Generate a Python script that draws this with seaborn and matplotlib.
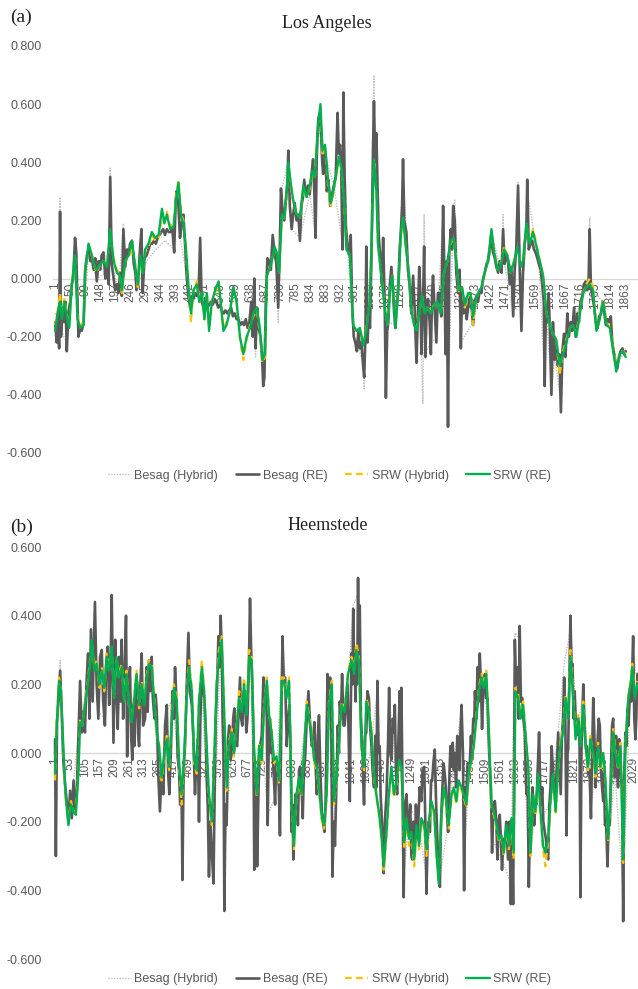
import matplotlib
matplotlib.use("Agg")
import matplotlib.pyplot as plt
import matplotlib.ticker as mticker
import seaborn as sns

# ---------------- (a) Los Angeles ----------------
srw_obs_a = [1, 12, 17, 23, 31, 39, 47, 55, 66, 74,
             83, 94, 99, 110, 121, 130, 137, 148, 159, 170,
             181, 192, 203, 213, 219, 230, 241, 252, 263, 271,
             279, 288, 295, 306, 317, 328, 339, 350, 358, 366,
             377, 388, 396, 404, 413, 420, 428, 437, 445, 453,
             464, 472, 480, 489, 497, 504, 513, 524, 535, 542,
             551, 561, 573, 583, 594, 605, 616, 627, 638, 649,
             660, 670, 678, 687, 693, 700, 709, 718, 725, 733,
             742, 750, 758, 763, 772, 779, 790, 801, 812, 823,
             833, 842, 850, 859, 868, 875, 883, 894, 902, 910,
             921, 929, 937, 945, 953, 964, 975, 986, 997, 1008,
             1018, 1029, 1035, 1043, 1051, 1056, 1067, 1078, 1087, 1095,
             1103, 1113, 1122, 1131, 1138, 1147, 1157, 1165, 1174, 1182,
             1191, 1200, 1209, 1218, 1229, 1240, 1250, 1261, 1272, 1283,
             1294, 1303, 1313, 1321, 1331, 1340, 1351, 1359, 1367, 1375,
             1383, 1394, 1405, 1416, 1427, 1436, 1447, 1457, 1468, 1479,
             1490, 1501, 1512, 1523, 1530, 1541, 1552, 1563, 1574, 1585,
             1596, 1607, 1618, 1628, 1639, 1650, 1661, 1672, 1683, 1694,
             1705, 1716, 1727, 1737, 1748, 1759, 1770, 1781, 1792, 1803,
             1814, 1825, 1835, 1846, 1857, 1866]
srw_re_a = [-0.18, -0.10, -0.08, -0.14, -0.08, -0.13, -0.17, -0.03, 0.08, -0.14,
            -0.17, -0.16, 0.02, 0.12, 0.08, 0.04, 0.03, 0.05, 0.06, 0.04,
            0.17, 0.06, 0.02, 0.01, -0.04, 0.06, 0.08, 0.13, 0.04, -0.02,
            0.08, 0.02, 0.10, 0.12, 0.16, 0.14, 0.15, 0.24, 0.19, 0.22,
            0.17, 0.18, 0.27, 0.33, 0.21, 0.19, 0.11, -0.03, -0.12, -0.04,
            -0.02, -0.08, -0.05, -0.14, -0.05, -0.18, -0.08, -0.04, -0.01, -0.08,
            -0.18, -0.16, -0.11, -0.03, -0.08, -0.20, -0.26, -0.20, -0.17, -0.12,
            -0.10, -0.17, -0.28, -0.26, 0.01, 0.03, 0.06, 0.11, 0.09, 0.02,
            0.22, 0.21, 0.30, 0.40, 0.32, 0.27, 0.22, 0.21, 0.32, 0.28,
            0.32, 0.37, 0.35, 0.51, 0.60, 0.44, 0.46, 0.33, 0.26, 0.30,
            0.37, 0.42, 0.38, 0.27, 0.10, 0.08, -0.16, -0.18, -0.17, -0.23,
            -0.18, -0.08, 0.12, 0.41, 0.30, 0.12, 0.01, -0.10, -0.16, -0.05,
            0.01, -0.17, -0.05, 0.16, 0.21, 0.11, 0.02, -0.11, -0.16, -0.18,
            -0.12, -0.06, -0.12, -0.10, -0.12, -0.09, -0.08, -0.12, 0.02, 0.06,
            0.13, 0.14, 0.05, -0.04, -0.03, -0.09, -0.05, -0.05, -0.13, -0.08,
            -0.05, -0.03, 0.02, 0.06, 0.17, 0.09, 0.03, 0.04, 0.10, 0.08,
            0.02, 0.06, 0.11, 0.04, 0.06, 0.19, 0.12, 0.16, 0.11, 0.06,
            0.01, -0.12, -0.16, -0.19, -0.21, -0.30, -0.26, -0.22, -0.17, -0.16,
            -0.20, -0.12, -0.05, -0.03, -0.02, -0.04, -0.18, -0.14, -0.08, -0.16,
            -0.17, -0.25, -0.32, -0.26, -0.25, -0.27]
srw_hyb_a = [-0.16, -0.09, -0.05, -0.13, -0.07, -0.12, -0.16, -0.02, 0.07, -0.13,
             -0.16, -0.15, 0.02, 0.11, 0.08, 0.04, 0.02, 0.05, 0.06, 0.05,
             0.15, 0.07, 0.03, 0.01, -0.05, 0.06, 0.07, 0.11, 0.05, -0.03,
             0.07, 0.02, 0.09, 0.11, 0.15, 0.13, 0.14, 0.21, 0.20, 0.23,
             0.18, 0.19, 0.28, 0.34, 0.22, 0.20, 0.10, -0.03, -0.15, -0.04,
             -0.01, -0.08, -0.05, -0.14, -0.05, -0.17, -0.08, -0.05, -0.02, -0.08,
             -0.17, -0.15, -0.11, -0.03, -0.08, -0.21, -0.28, -0.21, -0.16, -0.13,
             -0.11, -0.18, -0.29, -0.27, 0.01, 0.03, 0.06, 0.10, 0.09, 0.02,
             0.21, 0.21, 0.29, 0.39, 0.31, 0.26, 0.22, 0.21, 0.31, 0.28,
             0.31, 0.36, 0.35, 0.50, 0.59, 0.43, 0.45, 0.31, 0.25, 0.29,
             0.36, 0.41, 0.37, 0.27, 0.10, 0.08, -0.16, -0.18, -0.17, -0.22,
             -0.17, -0.08, 0.12, 0.40, 0.30, 0.12, 0.01, -0.10, -0.16, -0.05,
             0.01, -0.16, -0.05, 0.15, 0.20, 0.11, 0.02, -0.11, -0.16, -0.17,
             -0.12, -0.06, -0.12, -0.10, -0.11, -0.09, -0.08, -0.12, 0.02, 0.06,
             0.12, 0.14, 0.06, -0.05, -0.03, -0.10, -0.06, -0.05, -0.16, -0.08,
             -0.05, -0.03, 0.02, 0.06, 0.16, 0.10, 0.03, 0.05, 0.11, 0.08,
             0.02, 0.06, 0.10, 0.05, 0.06, 0.18, 0.13, 0.17, 0.12, 0.06,
             0.01, -0.12, -0.16, -0.19, -0.21, -0.33, -0.25, -0.21, -0.17, -0.16,
             -0.19, -0.11, -0.05, -0.02, 0.00, -0.03, -0.17, -0.14, -0.07, -0.15,
             -0.17, -0.24, -0.31, -0.25, -0.25, -0.26]

besag_obs_a = [1, 6, 10, 14, 17, 20, 25, 30, 35, 39,
               44, 50, 55, 60, 66, 70, 77, 83, 88, 94,
               99, 105, 110, 116, 121, 127, 132, 137, 143, 148,
               153, 159, 165, 170, 176, 181, 186, 192, 197, 203,
               208, 213, 219, 224, 230, 236, 241, 246, 252, 258,
               263, 267, 272, 277, 283, 287, 293, 300, 306, 312,
               318, 324, 330, 336, 342, 348, 354, 360, 366, 372,
               378, 384, 390, 395, 398, 404, 409, 415, 420, 425,
               430, 436, 442, 447, 453, 458, 464, 470, 475, 480,
               486, 492, 498, 504, 510, 516, 522, 528, 534, 540,
               546, 552, 558, 564, 570, 576, 582, 588, 594, 600,
               606, 612, 618, 624, 630, 636, 642, 647, 652, 656,
               661, 666, 672, 677, 681, 685, 690, 695, 700, 706,
               712, 718, 724, 730, 735, 739, 744, 750, 755, 760,
               763, 768, 774, 779, 784, 790, 796, 801, 806, 811,
               815, 821, 828, 833, 838, 844, 848, 852, 856, 861,
               866, 870, 874, 877, 883, 889, 894, 900, 906, 912,
               918, 924, 928, 932, 936, 940, 943, 947, 951, 956,
               962, 967, 972, 977, 982, 987, 992, 997, 1002, 1006,
               1011, 1015, 1018, 1022, 1026, 1030, 1035, 1040, 1043, 1047,
               1051, 1055, 1059, 1064, 1069, 1073, 1078, 1082, 1086, 1090,
               1095, 1100, 1105, 1109, 1113, 1118, 1122, 1127, 1131, 1135,
               1138, 1142, 1149, 1154, 1160, 1165, 1171, 1176, 1182, 1186,
               1191, 1195, 1198, 1203, 1207, 1211, 1216, 1220, 1225, 1229,
               1233, 1236, 1241, 1247, 1252, 1258, 1263, 1269, 1273, 1277,
               1281, 1285, 1289, 1294, 1298, 1302, 1307, 1312, 1318, 1323,
               1327, 1331, 1336, 1341, 1346, 1351, 1356, 1361, 1367, 1372,
               1378, 1383, 1389, 1394, 1400, 1405, 1411, 1416, 1422, 1427,
               1432, 1438, 1443, 1449, 1454, 1460, 1465, 1470, 1476, 1481,
               1487, 1492, 1498, 1503, 1508, 1514, 1519, 1525, 1530, 1536,
               1541, 1544, 1549, 1555, 1560, 1566, 1571, 1577, 1582, 1588,
               1593, 1598, 1601, 1605, 1610, 1614, 1618, 1623, 1628, 1634,
               1639, 1644, 1649, 1654, 1659, 1664, 1669, 1675, 1680, 1686,
               1691, 1697, 1702, 1708, 1713, 1718, 1724, 1729, 1735, 1740,
               1744, 1748, 1752, 1757, 1763, 1768, 1774, 1779, 1785, 1790,
               1796, 1801, 1807, 1812, 1817, 1822, 1828, 1833, 1838, 1844,
               1849, 1855, 1860, 1866]
besag_re_a = [-0.15, -0.22, -0.12, -0.24, 0.23, -0.20, -0.10, -0.15, -0.08, -0.25,
              -0.12, -0.08, -0.02, 0.00, 0.14, 0.09, -0.20, -0.17, -0.18, -0.15,
              0.03, 0.08, 0.10, 0.06, 0.07, 0.03, 0.07, -0.01, 0.06, 0.03,
              0.08, 0.09, 0.00, 0.04, -0.02, 0.35, 0.05, 0.00, -0.04, -0.02,
              -0.05, 0.02, -0.06, 0.17, 0.04, 0.10, 0.08, 0.12, 0.13, 0.05,
              0.02, -0.04, -0.02, 0.08, 0.17, -0.05, 0.07, 0.08, 0.10, 0.12,
              0.12, 0.13, 0.12, 0.14, 0.15, 0.16, 0.17, 0.15, 0.17, 0.16,
              0.16, 0.17, 0.09, 0.27, 0.30, 0.25, 0.14, 0.19, 0.22, 0.13,
              0.02, -0.06, -0.10, -0.06, -0.07, -0.05, -0.06, -0.04, 0.14, -0.08,
              -0.10, -0.08, -0.10, -0.09, -0.08, -0.09, -0.07, -0.08, -0.10, -0.09,
              -0.11, -0.12, -0.11, -0.12, -0.11, -0.10, -0.13, -0.12, -0.14, -0.14,
              -0.16, -0.15, -0.16, -0.14, -0.17, -0.15, -0.08, -0.20, 0.00, -0.24,
              -0.10, -0.17, -0.20, -0.26, -0.37, -0.34, -0.05, 0.07, 0.06, 0.03,
              0.15, 0.09, 0.05, -0.10, 0.10, 0.31, 0.24, 0.20, 0.27, 0.33,
              0.44, 0.25, 0.17, 0.22, 0.26, 0.20, 0.22, 0.13, 0.25, 0.28,
              0.34, 0.29, 0.32, 0.29, 0.35, 0.41, 0.30, 0.14, 0.42, 0.55,
              0.57, 0.50, 0.40, 0.36, 0.44, 0.30, 0.34, 0.25, 0.29, 0.32,
              0.35, 0.57, 0.43, 0.46, 0.38, 0.10, 0.64, 0.35, 0.18, 0.12,
              0.08, 0.15, -0.10, -0.20, -0.22, -0.25, -0.18, -0.24, -0.22, -0.28,
              -0.34, -0.20, 0.11, -0.22, -0.12, -0.17, 0.08, 0.45, 0.61, 0.40,
              0.50, 0.30, 0.14, 0.07, -0.02, 0.14, -0.08, -0.41, -0.18, -0.15,
              -0.02, 0.04, -0.04, -0.12, -0.17, -0.08, -0.04, 0.10, 0.16, 0.25,
              0.41, 0.20, 0.16, 0.03, -0.03, -0.12, 0.01, -0.10, -0.29, -0.15,
              0.04, -0.06, -0.26, -0.10, 0.11, -0.27, -0.08, -0.07, -0.15, -0.26,
              -0.05, 0.01, -0.10, -0.22, -0.05, -0.05, -0.13, 0.25, 0.02, -0.26,
              0.06, -0.51, 0.08, 0.17, 0.10, 0.25, 0.20, 0.02, -0.05, 0.03,
              -0.24, -0.04, -0.12, -0.07, -0.14, -0.10, -0.05, -0.09, -0.16, -0.08,
              -0.06, -0.08, -0.04, -0.05, 0.00, 0.02, 0.05, 0.06, 0.10, 0.16,
              0.09, 0.07, 0.04, 0.02, 0.06, 0.02, 0.17, 0.05, 0.08, 0.06,
              -0.02, 0.04, -0.13, 0.03, 0.10, 0.32, 0.05, -0.18, 0.02, 0.12,
              0.16, 0.34, 0.10, 0.12, 0.13, 0.10, 0.09, 0.07, 0.05, 0.03,
              -0.02, -0.08, -0.37, -0.10, -0.15, -0.05, -0.18, -0.40, -0.15, -0.28,
              -0.22, -0.30, -0.26, -0.46, -0.25, -0.19, -0.27, -0.12, -0.20, -0.15,
              -0.18, -0.10, -0.20, -0.12, -0.15, -0.08, -0.06, -0.02, -0.01, -0.04,
              -0.03, 0.17, -0.03, -0.06, -0.10, -0.15, -0.17, -0.13, -0.12, -0.08,
              -0.12, -0.16, -0.14, -0.15, -0.13, -0.22, -0.26, -0.29, -0.31, -0.27,
              -0.25, -0.24, -0.26, -0.25]
besag_hyb_obs_a = [1, 14, 17, 20, 39, 50, 66, 77, 94, 110,
                   137, 165, 176, 181, 186, 208, 224, 230, 252, 272,
                   300, 330, 360, 390, 398, 409, 430, 442, 470, 475,
                   480, 520, 560, 600, 630, 652, 656, 661, 677, 681,
                   690, 712, 724, 730, 739, 763, 774, 801, 833, 852,
                   861, 883, 912, 940, 943, 956, 977, 1006, 1011, 1018,
                   1030, 1040, 1043, 1047, 1059, 1078, 1082, 1090, 1113, 1138,
                   1149, 1182, 1198, 1203, 1207, 1211, 1247, 1269, 1285, 1302,
                   1307, 1327, 1367, 1400, 1427, 1460, 1465, 1470, 1498, 1514,
                   1525, 1544, 1582, 1601, 1605, 1623, 1634, 1654, 1664, 1691,
                   1718, 1744, 1748, 1752, 1790, 1822, 1838, 1866]
besag_hyb_a = [-0.12, -0.20, 0.28, -0.18, -0.22, -0.08, 0.12, -0.20, -0.15, 0.08,
               0.00, 0.02, -0.01, 0.38, 0.05, -0.04, 0.19, 0.05, 0.12, -0.02,
               0.06, 0.10, 0.13, 0.10, 0.31, 0.14, 0.02, -0.10, -0.05, 0.10,
               -0.08, -0.08, -0.11, -0.13, -0.16, -0.02, -0.27, -0.10, -0.26, -0.33,
               -0.04, 0.14, 0.05, -0.15, 0.30, 0.40, 0.17, 0.14, 0.29, 0.15,
               0.52, 0.43, 0.32, 0.12, 0.60, 0.12, -0.20, -0.28, -0.38, 0.08,
               -0.16, 0.55, 0.70, 0.40, 0.14, -0.08, -0.40, -0.15, -0.16, 0.36,
               0.15, -0.27, -0.25, -0.43, 0.22, -0.25, -0.20, 0.22, -0.45, 0.24,
               0.27, -0.22, -0.15, 0.00, 0.15, 0.02, 0.22, 0.05, -0.12, 0.33,
               -0.16, 0.30, 0.05, -0.35, -0.10, -0.38, -0.27, -0.43, -0.19, -0.17,
               -0.08, -0.03, 0.21, -0.03, -0.08, -0.21, -0.30, -0.24]
ticks_a = [1, 50, 99, 148, 197, 246, 295, 344, 393, 442, 491, 540, 589, 638,
           687, 736, 785, 834, 883, 932, 981, 1030, 1079, 1128, 1177, 1226,
           1275, 1324, 1373, 1422, 1471, 1520, 1569, 1618, 1667, 1716, 1765,
           1814, 1863]

# ---------------- (b) Heemstede ----------------
srw_obs_b = [1, 7, 15, 22, 30, 38, 48, 57, 65, 74,
             83, 89, 97, 106, 116, 124, 130, 139, 147, 157,
             165, 174, 182, 190, 200, 208, 217, 225, 235, 243,
             252, 261, 270, 279, 287, 296, 305, 314, 323, 331,
             340, 350, 358, 366, 375, 383, 393, 401, 410, 418,
             428, 436, 445, 453, 463, 471, 481, 489, 498, 506,
             516, 524, 533, 541, 551, 559, 568, 576, 586, 594,
             603, 611, 621, 629, 638, 647, 656, 664, 673, 682,
             691, 699, 709, 717, 726, 734, 744, 752, 761, 769,
             778, 787, 796, 804, 813, 822, 831, 839, 848, 857,
             866, 874, 884, 892, 902, 910, 919, 927, 937, 945,
             954, 962, 972, 980, 989, 997, 1006, 1017, 1029, 1041,
             1050, 1058, 1067, 1076, 1085, 1093, 1102, 1111, 1120, 1128,
             1137, 1146, 1154, 1164, 1172, 1181, 1190, 1199, 1208, 1216,
             1226, 1234, 1243, 1251, 1261, 1269, 1278, 1286, 1296, 1304,
             1312, 1321, 1331, 1339, 1347, 1357, 1365, 1374, 1382, 1392,
             1400, 1409, 1417, 1427, 1435, 1444, 1452, 1462, 1470, 1479,
             1488, 1497, 1505, 1514, 1523, 1532, 1540, 1550, 1558, 1567,
             1575, 1585, 1593, 1602, 1610, 1616, 1626, 1634, 1643, 1651,
             1661, 1669, 1678, 1686, 1696, 1704, 1713, 1721, 1731, 1739,
             1748, 1757, 1766, 1774, 1783, 1792, 1801, 1809, 1819, 1827,
             1836, 1844, 1854, 1862, 1871, 1879, 1889, 1897, 1906, 1914,
             1924, 1932, 1941, 1950, 1959, 1967, 1976, 1985, 1994, 2002,
             2012, 2020, 2026, 2035, 2043]
srw_re_b = [-0.06, 0.08, 0.21, 0.18, 0.02, -0.12, -0.21, -0.15, -0.17, -0.18,
            -0.06, 0.09, 0.08, 0.14, 0.20, 0.26, 0.33, 0.24, 0.26, 0.20,
            0.24, 0.19, 0.28, 0.24, 0.31, 0.16, 0.28, 0.22, 0.25, 0.15,
            0.23, 0.14, 0.09, 0.16, 0.23, 0.14, 0.20, 0.14, 0.22, 0.26,
            0.25, 0.14, 0.06, 0.02, -0.07, -0.01, 0.04, -0.04, 0.08, 0.19,
            0.15, -0.02, -0.12, -0.02, 0.16, 0.25, 0.18, -0.02, -0.05, 0.15,
            0.25, 0.18, 0.02, -0.12, -0.20, -0.02, 0.20, 0.28, 0.33, 0.13,
            -0.10, 0.02, 0.06, 0.00, 0.07, 0.16, 0.12, 0.20, 0.11, 0.28,
            0.27, 0.02, -0.12, 0.02, -0.02, 0.12, 0.21, 0.11, 0.06, -0.02,
            -0.01, -0.08, 0.21, 0.21, 0.16, 0.21, -0.14, -0.27, -0.12, -0.07,
            -0.12, 0.00, 0.14, 0.10, 0.05, -0.02, -0.04, -0.10, -0.19, -0.21,
            -0.12, 0.14, 0.20, -0.14, -0.06, 0.03, 0.14, 0.12, 0.23, 0.27,
            0.23, 0.30, 0.27, 0.02, -0.04, 0.15, 0.12, 0.06, -0.06, -0.12,
            -0.17, -0.24, -0.33, -0.23, -0.12, -0.04, -0.12, -0.08, -0.02, -0.04,
            -0.26, -0.19, -0.25, -0.23, -0.31, -0.21, -0.27, -0.19, -0.21, -0.28,
            -0.20, -0.14, -0.17, -0.29, -0.38, -0.17, -0.10, -0.14, -0.21, -0.12,
            -0.10, -0.14, -0.08, -0.10, -0.12, -0.15, -0.06, -0.02, 0.02, 0.10,
            0.18, 0.22, 0.19, 0.23, 0.06, -0.15, -0.17, -0.21, -0.25, -0.24,
            -0.29, -0.21, -0.27, -0.19, -0.29, 0.18, 0.16, 0.10, 0.14, 0.06,
            -0.04, -0.29, -0.12, -0.17, -0.06, -0.17, -0.27, -0.29, -0.25, -0.14,
            -0.06, -0.17, -0.04, 0.02, 0.06, 0.16, 0.10, 0.28, 0.16, 0.04,
            0.10, 0.02, 0.14, 0.02, -0.04, 0.04, 0.00, -0.06, 0.02, -0.04,
            0.00, -0.08, -0.25, -0.12, 0.06, 0.00, -0.04, 0.02, -0.31, 0.02,
            0.16, 0.20, 0.25, 0.16, 0.20]
srw_hyb_b = [-0.08, 0.09, 0.22, 0.18, 0.01, -0.13, -0.20, -0.14, -0.17, -0.17,
             -0.05, 0.10, 0.08, 0.15, 0.21, 0.27, 0.32, 0.25, 0.27, 0.19,
             0.25, 0.18, 0.29, 0.25, 0.30, 0.17, 0.27, 0.23, 0.26, 0.16,
             0.24, 0.13, 0.10, 0.17, 0.24, 0.13, 0.21, 0.15, 0.23, 0.27,
             0.26, 0.15, 0.05, 0.03, -0.08, -0.02, 0.05, -0.05, 0.09, 0.20,
             0.16, -0.03, -0.15, -0.03, 0.17, 0.27, 0.19, -0.03, -0.06, 0.16,
             0.27, 0.19, 0.01, -0.13, -0.21, -0.03, 0.21, 0.30, 0.34, 0.14,
             -0.11, 0.03, 0.07, -0.01, 0.08, 0.18, 0.13, 0.22, 0.12, 0.30,
             0.28, 0.01, -0.13, 0.03, -0.03, 0.13, 0.22, 0.12, 0.07, -0.03,
             -0.02, -0.09, 0.22, 0.22, 0.17, 0.22, -0.15, -0.28, -0.13, -0.08,
             -0.13, 0.01, 0.15, 0.11, 0.06, -0.03, -0.05, -0.11, -0.20, -0.22,
             -0.13, 0.15, 0.21, -0.15, -0.07, 0.04, 0.15, 0.13, 0.24, 0.28,
             0.24, 0.32, 0.28, 0.01, -0.05, 0.16, 0.13, 0.07, -0.07, -0.13,
             -0.18, -0.25, -0.34, -0.24, -0.13, -0.05, -0.13, -0.09, -0.03, -0.05,
             -0.28, -0.20, -0.27, -0.24, -0.33, -0.22, -0.28, -0.20, -0.22, -0.30,
             -0.21, -0.15, -0.18, -0.30, -0.37, -0.18, -0.11, -0.15, -0.22, -0.13,
             -0.11, -0.15, -0.09, -0.11, -0.13, -0.16, -0.07, -0.03, 0.03, 0.11,
             0.19, 0.23, 0.20, 0.24, 0.07, -0.16, -0.18, -0.22, -0.26, -0.25,
             -0.30, -0.22, -0.28, -0.20, -0.31, 0.19, 0.17, 0.11, 0.15, 0.07,
             -0.05, -0.30, -0.13, -0.18, -0.07, -0.18, -0.28, -0.33, -0.26, -0.15,
             -0.07, -0.18, -0.05, 0.03, 0.07, 0.17, 0.11, 0.30, 0.17, 0.05,
             0.11, 0.03, 0.15, 0.01, -0.05, 0.05, -0.01, -0.07, 0.03, -0.05,
             -0.01, -0.09, -0.26, -0.13, 0.07, 0.01, -0.05, 0.03, -0.32, 0.03,
             0.17, 0.21, 0.26, 0.17, 0.21]

besag_obs_b = [1, 4, 8, 13, 19, 24, 30, 36, 42, 48,
               54, 60, 66, 72, 77, 83, 89, 95, 100, 106,
               111, 117, 122, 127, 133, 137, 141, 147, 153, 159,
               165, 170, 176, 181, 186, 191, 196, 200, 206, 212,
               217, 221, 226, 231, 235, 240, 245, 250, 254, 259,
               264, 268, 272, 276, 279, 284, 288, 292, 296, 300,
               305, 310, 317, 322, 326, 331, 336, 340, 345, 350,
               354, 358, 364, 369, 375, 381, 387, 393, 398, 402,
               408, 413, 418, 422, 427, 431, 436, 440, 445, 448,
               452, 457, 463, 469, 474, 481, 486, 492, 497, 502,
               506, 511, 516, 521, 525, 530, 533, 537, 541, 546,
               551, 557, 561, 565, 570, 574, 578, 582, 586, 589,
               592, 595, 599, 603, 608, 612, 617, 621, 626, 630,
               635, 640, 645, 650, 654, 658, 663, 668, 672, 676,
               681, 685, 689, 693, 697, 700, 705, 710, 715, 720,
               726, 732, 736, 740, 744, 747, 751, 755, 759, 763,
               768, 773, 777, 782, 786, 790, 795, 799, 803, 808,
               811, 814, 819, 823, 827, 831, 834, 837, 841, 845,
               849, 853, 857, 861, 866, 870, 874, 878, 884, 890,
               896, 902, 907, 911, 915, 919, 923, 927, 932, 937,
               941, 946, 950, 954, 957, 962, 966, 970, 974, 979,
               983, 988, 993, 997, 1000, 1004, 1008, 1013, 1017, 1022,
               1027, 1031, 1035, 1038, 1041, 1044, 1047, 1050, 1052, 1055,
               1058, 1061, 1064, 1067, 1070, 1074, 1078, 1081, 1085, 1089,
               1093, 1097, 1102, 1106, 1111, 1115, 1120, 1125, 1128, 1132,
               1136, 1140, 1143, 1146, 1150, 1154, 1158, 1164, 1169, 1173,
               1177, 1181, 1186, 1190, 1193, 1197, 1201, 1205, 1210, 1213,
               1216, 1220, 1224, 1228, 1234, 1238, 1242, 1247, 1251, 1254,
               1258, 1263, 1267, 1271, 1275, 1280, 1286, 1290, 1296, 1300,
               1304, 1308, 1312, 1316, 1320, 1324, 1328, 1333, 1338, 1343,
               1347, 1351, 1355, 1359, 1364, 1368, 1372, 1376, 1380, 1385,
               1388, 1392, 1396, 1400, 1403, 1408, 1412, 1415, 1420, 1423,
               1427, 1432, 1436, 1440, 1444, 1448, 1452, 1456, 1460, 1464,
               1468, 1471, 1474, 1479, 1483, 1487, 1491, 1495, 1499, 1503,
               1509, 1513, 1518, 1522, 1526, 1530, 1534, 1539, 1544, 1549,
               1553, 1557, 1561, 1565, 1569, 1574, 1579, 1584, 1590, 1595,
               1600, 1604, 1608, 1611, 1614, 1618, 1623, 1627, 1631, 1635,
               1640, 1644, 1649, 1652, 1655, 1659, 1663, 1667, 1672, 1676,
               1682, 1686, 1690, 1694, 1699, 1703, 1706, 1710, 1714, 1719,
               1723, 1727, 1731, 1735, 1739, 1743, 1748, 1752, 1754, 1758,
               1762, 1766, 1770, 1775, 1779, 1783, 1787, 1791, 1795, 1799,
               1801, 1805, 1809, 1813, 1816, 1820, 1824, 1829, 1834, 1838,
               1841, 1844, 1848, 1851, 1854, 1858, 1862, 1866, 1871, 1876,
               1881, 1885, 1889, 1893, 1897, 1900, 1905, 1908, 1912, 1916,
               1920, 1924, 1927, 1930, 1934, 1939, 1943, 1947, 1951, 1955,
               1959, 1962, 1965, 1969, 1973, 1976, 1980, 1983, 1986, 1990,
               1994, 1998, 2002, 2005, 2009, 2013, 2018, 2022, 2026, 2029,
               2033, 2037, 2040, 2044]
besag_re_b = [0.04, -0.30, 0.09, 0.15, 0.24, 0.13, -0.02, -0.09, -0.14, -0.20,
              -0.11, -0.19, -0.08, -0.17, -0.12, 0.05, 0.21, 0.06, 0.12, 0.06,
              0.20, 0.29, 0.10, 0.36, 0.15, 0.30, 0.44, 0.20, 0.10, 0.28,
              0.30, 0.15, 0.08, 0.27, 0.31, 0.14, 0.25, 0.46, 0.03, 0.33,
              0.16, 0.07, 0.28, 0.15, 0.33, 0.10, 0.22, 0.40, -0.01, 0.20,
              0.25, 0.05, -0.02, 0.14, 0.02, 0.20, 0.21, 0.06, 0.02, 0.19,
              0.29, 0.08, 0.10, 0.25, 0.12, 0.27, 0.18, 0.28, 0.15, 0.10,
              0.17, 0.12, -0.08, -0.17, -0.05, -0.12, 0.08, 0.14, -0.06, -0.12,
              0.02, 0.18, 0.10, 0.25, 0.15, -0.01, -0.05, -0.15, -0.10, -0.37,
              -0.05, 0.02, 0.20, 0.35, 0.18, 0.14, 0.05, -0.12, -0.02, 0.04,
              -0.20, 0.10, 0.23, 0.18, 0.16, 0.05, -0.07, -0.16, -0.36, -0.20,
              -0.29, -0.38, -0.10, 0.10, 0.21, 0.34, 0.25, 0.40, 0.30, 0.10,
              0.00, -0.46, -0.15, -0.21, 0.04, 0.08, -0.02, 0.00, 0.10, 0.13,
              0.03, 0.02, 0.12, 0.22, 0.10, 0.08, 0.16, 0.18, 0.06, 0.10,
              0.25, 0.45, 0.30, 0.20, 0.05, -0.34, -0.05, -0.33, -0.10, 0.02,
              0.05, 0.22, 0.14, 0.18, 0.10, -0.21, 0.05, 0.10, 0.00, 0.02,
              -0.06, -0.15, -0.02, -0.04, -0.10, -0.24, 0.10, 0.34, 0.22, 0.22,
              0.12, 0.02, 0.10, 0.14, 0.02, -0.23, -0.15, -0.31, -0.20, -0.12,
              -0.15, -0.21, -0.05, -0.04, -0.10, -0.19, -0.05, -0.02, 0.10, 0.18,
              0.08, 0.02, 0.05, 0.09, -0.03, -0.12, 0.05, 0.11, -0.06, -0.17,
              -0.20, -0.23, -0.15, 0.06, 0.23, 0.15, 0.22, 0.10, -0.36, -0.20,
              -0.27, -0.10, 0.08, 0.00, 0.15, 0.10, 0.23, 0.08, 0.08, 0.14,
              0.20, 0.05, -0.14, 0.10, 0.29, 0.20, 0.42, 0.25, 0.28, 0.15,
              0.30, 0.20, 0.51, 0.25, 0.43, 0.10, 0.04, -0.05, -0.15, 0.05,
              0.06, 0.18, 0.16, 0.08, 0.02, -0.05, -0.10, 0.05, -0.10, 0.21,
              0.00, 0.02, -0.12, -0.17, -0.25, -0.35, -0.20, -0.12, 0.02, 0.19,
              0.00, -0.02, 0.10, 0.06, 0.14, -0.05, -0.12, 0.02, 0.18, -0.05,
              0.19, -0.10, -0.42, -0.15, -0.12, -0.20, -0.23, -0.15, -0.30, -0.31,
              -0.20, -0.29, -0.15, -0.25, -0.21, -0.10, -0.14, -0.05, -0.04, -0.20,
              -0.41, -0.25, -0.20, -0.23, -0.08, -0.08, -0.03, 0.01, -0.15, -0.27,
              -0.30, -0.39, -0.20, -0.12, -0.03, -0.06, -0.10, -0.18, -0.23, -0.05,
              0.02, -0.04, 0.03, -0.05, 0.00, -0.10, 0.05, 0.03, -0.05, 0.06,
              0.14, 0.00, -0.40, -0.10, -0.12, -0.03, -0.03, -0.03, 0.05, -0.02,
              0.10, 0.05, 0.18, 0.10, 0.25, 0.15, 0.29, 0.20, 0.07, 0.18,
              0.23, 0.16, 0.16, 0.05, -0.04, -0.10, -0.29, -0.15, -0.14, -0.20,
              -0.31, -0.20, -0.18, -0.25, -0.34, -0.25, -0.26, -0.20, -0.31, -0.20,
              -0.44, -0.25, -0.44, -0.10, 0.33, 0.20, 0.25, 0.10, 0.37, 0.15,
              0.16, 0.10, 0.06, -0.05, -0.12, -0.10, -0.39, -0.20, -0.17, -0.10,
              -0.21, -0.15, -0.15, -0.05, 0.06, -0.10, -0.15, -0.10, -0.20, -0.23,
              -0.25, -0.30, -0.31, -0.15, -0.10, 0.02, -0.05, -0.10, -0.12, -0.10,
              -0.02, 0.06, -0.02, -0.12, 0.05, 0.10, 0.22, 0.10, -0.24, 0.00,
              0.01, 0.20, 0.40, 0.25, 0.26, 0.10, 0.18, 0.05, 0.06, 0.10,
              0.02, -0.42, 0.03, 0.10, 0.20, 0.10, 0.02, 0.02, -0.06, -0.05,
              -0.19, 0.00, 0.16, 0.05, -0.10, -0.04, 0.05, 0.10, 0.08, -0.05,
              -0.10, -0.14, -0.05, -0.21, -0.20, -0.33, -0.20, -0.21, -0.05, 0.08,
              0.10, 0.02, -0.07, 0.05, -0.05, -0.10, 0.04, -0.02, -0.06, -0.10,
              -0.49, -0.05, 0.06, 0.02, 0.13, 0.08, 0.19, 0.15, 0.25, 0.34,
              0.10, 0.04, 0.10, 0.23]
besag_hyb_obs_b = [1, 19, 30, 48, 66, 83, 100, 117, 141, 153,
                   176, 200, 221, 250, 272, 288, 310, 331, 350, 369,
                   393, 413, 431, 448, 469, 492, 516, 541, 557, 582,
                   595, 621, 650, 672, 685, 700, 726, 747, 773, 799,
                   823, 837, 861, 890, 919, 946, 966, 974, 1000, 1027,
                   1047, 1064, 1085, 1111, 1132, 1154, 1173, 1201, 1216, 1224,
                   1247, 1275, 1304, 1328, 1351, 1380, 1403, 1427, 1436, 1460,
                   1491, 1513, 1534, 1569, 1600, 1614, 1631, 1663, 1690, 1714,
                   1735, 1766, 1787, 1809, 1834, 1854, 1881, 1905, 1939, 1965,
                   1994, 2018, 2029, 2044]
besag_hyb_b = [0.00, 0.27, -0.02, -0.18, -0.08, 0.05, 0.12, 0.25, 0.40, 0.12,
               0.10, 0.30, 0.10, 0.30, 0.00, 0.22, 0.10, 0.22, 0.12, -0.15,
               0.12, 0.16, 0.00, -0.25, 0.30, -0.10, 0.20, -0.25, -0.30, 0.33,
               -0.30, 0.02, 0.20, 0.08, 0.38, -0.25, 0.05, -0.18, -0.13, 0.30,
               0.12, -0.26, -0.04, 0.16, -0.10, -0.20, 0.20, -0.30, 0.13, 0.18,
               0.43, 0.46, -0.12, 0.03, 0.18, -0.32, 0.17, -0.10, 0.16, -0.36,
               -0.16, -0.20, -0.36, -0.03, -0.36, -0.21, 0.00, 0.12, -0.32, 0.04,
               0.27, 0.15, -0.25, -0.31, -0.38, 0.35, 0.33, -0.34, -0.14, -0.18,
               -0.15, 0.06, 0.26, 0.36, 0.06, 0.18, -0.17, 0.05, -0.29, -0.06,
               -0.40, 0.17, 0.30, 0.20]
ticks_b = [1, 53, 105, 157, 209, 261, 313, 365, 417, 469, 521, 573, 625, 677,
           729, 781, 833, 885, 937, 989, 1041, 1093, 1145, 1197, 1249, 1301,
           1353, 1405, 1457, 1509, 1561, 1613, 1665, 1717, 1769, 1821, 1873,
           1925, 1977, 2029]

GREY_TXT = "#595959"

sns.set_theme(style="white")
plt.rcParams["font.family"] = ["Liberation Sans", "DejaVu Sans"]

fig = plt.figure(figsize=(6.38, 9.89), dpi=100, facecolor="white")


def draw_panel(ax, hb_x, hb_y, b_x, b_y, s_x, s_hyb, s_re, ticks, ylo, yhi, xmax):
    sns.lineplot(x=hb_x, y=hb_y, ax=ax, color="#c0c0c0", linewidth=1.0,
                 linestyle=(0, (1, 1)), label="Besag (Hybrid)", estimator=None, sort=False)
    sns.lineplot(x=b_x, y=b_y, ax=ax, color="#595959", linewidth=1.9,
                 label="Besag (RE)", estimator=None, sort=False)
    sns.lineplot(x=s_x, y=s_hyb, ax=ax, color="#ffc000", linewidth=1.6,
                 linestyle=(0, (3, 2)), label="SRW (Hybrid)", estimator=None, sort=False)
    sns.lineplot(x=s_x, y=s_re, ax=ax, color="#00b050", linewidth=1.7,
                 label="SRW (RE)", estimator=None, sort=False)

    # horizontal axis sits on the zero line, like the Excel original
    for side in ["top", "right", "left"]:
        ax.spines[side].set_visible(False)
    ax.spines["bottom"].set_position(("data", 0))
    ax.spines["bottom"].set_color("#d9d9d9")
    ax.spines["bottom"].set_linewidth(1.0)
    ax.spines["bottom"].set_zorder(0.5)

    ax.set_xlim(-6, xmax)
    ax.set_ylim(ylo, yhi)
    ax.set_yticks([round(ylo + 0.2 * k, 1) for k in range(int(round((yhi - ylo) / 0.2)) + 1)])
    ax.yaxis.set_major_formatter(mticker.FormatStrFormatter("%.3f"))
    ax.set_xticks(ticks)
    ax.set_xticklabels([str(t) for t in ticks])
    ax.set_xlabel("")
    ax.set_ylabel("")

    ax.set_axisbelow(True)
    ax.grid(False)
    ax.tick_params(axis="y", length=0, pad=8, labelsize=9, labelcolor=GREY_TXT)
    ax.tick_params(axis="x", length=0, pad=3, labelsize=8.5, labelcolor=GREY_TXT,
                   labelrotation=90)
    ax.set_facecolor("none")


ax_a = fig.add_axes([0.0831, 0.5420, 0.9169, 0.4115])
draw_panel(ax_a, besag_hyb_obs_a, besag_hyb_a, besag_obs_a, besag_re_a,
           srw_obs_a, srw_hyb_a, srw_re_a, ticks_a, -0.6, 0.8, 1906)

ax_b = fig.add_axes([0.0831, 0.0303, 0.9169, 0.4166])
draw_panel(ax_b, besag_hyb_obs_b, besag_hyb_b, besag_obs_b, besag_re_b,
           srw_obs_b, srw_hyb_b, srw_re_b, ticks_b, -0.6, 0.6, 2046)

for ax, ly in [(ax_a, 0.519), (ax_b, 0.0101)]:
    ax.legend(loc="center", bbox_to_anchor=(0.516, ly), bbox_transform=fig.transFigure,
              ncol=4, frameon=False, fontsize=9, handlelength=1.9,
              handletextpad=0.25, columnspacing=1.4, labelcolor=GREY_TXT)

serif = ["Liberation Serif", "DejaVu Serif"]
fig.text(0.513, 0.976, "Los Angeles", ha="center", va="center", fontsize=13,
         family=serif, color="#222222")
fig.text(0.016, 0.982, "(a)", ha="left", va="center", fontsize=14,
         family=serif, color="#222222")
fig.text(0.513, 0.469, "Heemstede", ha="center", va="center", fontsize=13,
         family=serif, color="#222222")
fig.text(0.016, 0.467, "(b)", ha="left", va="center", fontsize=14,
         family=serif, color="#222222")

fig.savefig("out.png", dpi=100, facecolor="white")
